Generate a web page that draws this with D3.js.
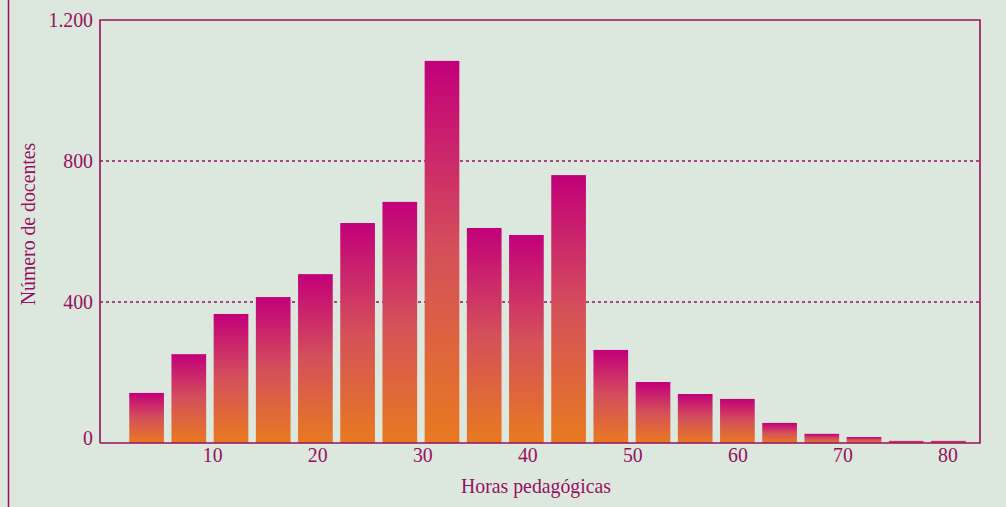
<!DOCTYPE html>
<html>
<head>
<meta charset="utf-8">
<script src="https://cdn.jsdelivr.net/npm/d3@7"></script>
<style>
  body { margin: 0; background: #dce8de; }
  svg { display: block; }
</style>
</head>
<body>
<svg width="1006" height="507"></svg>
<script>
// horas pedagógicas (clase) y número de docentes
var hours = [4, 8, 12, 16, 20, 24, 28, 32, 36, 40, 44, 48, 52, 56, 60, 64, 68, 72, 76, 80]
var teachers = [142, 252, 366, 414, 479, 624, 684, 1084, 610, 590, 760, 264, 173, 139, 125, 57, 26, 17, 6, 6]
var xTicks = [10, 20, 30, 40, 50, 60, 70, 80]
var yTicks = [0, 400, 800, 1200]

var ink = '#96105f'
var font = 'Liberation Serif, serif'

var svg = d3.select('svg')
var pl = 100, pr = 980, pt = 20, pb = 443

var x = d3.scaleLinear().domain([-0.73, 83.05]).range([pl, pr])
var xb = d3.scaleBand().domain(hours).range([125.5, 969.5])
    .paddingInner(0.178).paddingOuter(0.089)
var y = d3.scaleLinear().domain([0, 1200]).range([pb, pt])

var grad = svg.append('defs').append('linearGradient')
    .attr('id', 'bar')
    .attr('x1', 0).attr('y1', 0).attr('x2', 0).attr('y2', 1)
grad.append('stop').attr('offset', '0%').attr('stop-color', '#c2007a')
grad.append('stop').attr('offset', '50%').attr('stop-color', '#d4505a')
grad.append('stop').attr('offset', '100%').attr('stop-color', '#e87a20')

// left decorative rule
svg.append('line')
    .attr('x1', 8.5).attr('x2', 8.5).attr('y1', 0).attr('y2', 507)
    .style('stroke', ink).style('stroke-width', 1.5)

// dashed grid
svg.selectAll('.grid')
    .data([400, 800])
    .enter()
    .append('line')
    .attr('x1', pl).attr('x2', pr)
    .attr('y1', d => y(d)).attr('y2', d => y(d))
    .style('stroke', ink)
    .style('stroke-width', 1.3)
    .style('stroke-dasharray', '3,3')

// bars
svg.selectAll('.bar')
    .data(hours)
    .enter()
    .append('rect')
    .attr('x', d => xb(d))
    .attr('y', (d, i) => y(teachers[i]))
    .attr('width', xb.bandwidth())
    .attr('height', (d, i) => pb - y(teachers[i]))
    .style('fill', 'url(#bar)')

// frame
svg.append('path')
    .attr('d', 'M' + pl + ',' + pb + 'V' + pt + 'H' + pr + 'V' + pb + 'H' + pl)
    .style('fill', 'none')
    .style('stroke', ink)
    .style('stroke-width', 1.6)

// condensed serif text
function label(tx, ty, txt, anchor, rot) {
    return svg.append('text')
        .attr('transform', 'translate(' + tx + ',' + ty + ')' + (rot ? ' rotate(' + rot + ')' : '') + ' scale(0.9,1)')
        .attr('text-anchor', anchor)
        .style('font-family', font)
        .style('font-size', '22px')
        .style('fill', ink)
        .text(txt)
}

xTicks.forEach(d => label(x(d), 462, d, 'middle'))
yTicks.forEach(d => label(93, Math.min(y(d) + 7, 445), d3.format(',')(d).replace(',', '.'), 'end'))

label(536, 493, 'Horas pedagógicas', 'middle')
label(35, 224, 'Número de docentes', 'middle', -90)
</script>
</body>
</html>
